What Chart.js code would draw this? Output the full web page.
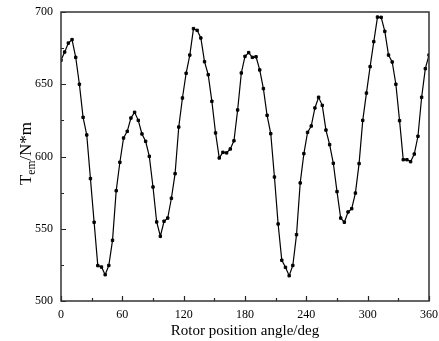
<!DOCTYPE html>
<html>
<head>
<meta charset="utf-8">
<script src="https://cdn.jsdelivr.net/npm/chart.js@4/dist/chart.umd.min.js"></script>
<style>
  html, body { margin: 0; padding: 0; background: #fff; }
  #wrap { width: 439px; height: 341px; position: relative; }
</style>
</head>
<body>
<div id="wrap"><canvas id="c" width="439" height="341"></canvas></div>
<script>
const angles = [0,3.6,7.2,10.8,14.4,18,21.6,25.2,28.8,32.4,36,39.6,43.2,46.8,50.4,54,57.6,61.2,64.8,68.4,
  72,75.6,79.2,82.8,86.4,90,93.6,97.2,100.8,104.4,108,111.6,115.2,118.8,122.4,126,129.6,133.2,136.8,140.4,
  144,147.6,151.2,154.8,158.4,162,165.6,169.2,172.8,176.4,180,183.6,187.2,190.8,194.4,198,201.6,205.2,208.8,212.4,
  216,219.6,223.2,226.8,230.4,234,237.6,241.2,244.8,248.4,252,255.6,259.2,262.8,266.4,270,273.6,277.2,280.8,284.4,
  288,291.6,295.2,298.8,302.4,306,309.6,313.2,316.8,320.4,324,327.6,331.2,334.8,338.4,342,345.6,349.2,352.8,356.4,360];

const torque = [666.6,672.3,678.5,680.9,668.6,650,627.1,614.9,584.7,554.5,524.5,523.5,518.2,524.6,542,576.3,596,612.8,617.4,626.6,
  630.6,625,615.6,610.5,600.1,578.9,554.7,544.8,555.2,557.4,571.1,588.1,620.4,640.5,657.6,670.2,688.5,687.3,682,665.6,
  656.6,638.2,616.3,599,602.9,602.5,605.2,610.9,632.2,657.8,669.3,671.9,668.6,669,659.9,647,628.5,615.8,585.8,553.3,
  528.2,523.3,517.5,524.6,545.9,581.7,602,616.7,621.1,633.6,641,635.4,618.3,608.2,595.3,575.7,557.4,554.5,561.6,563.9,
  574.7,595.1,625,643.9,662.2,679.5,696.5,696.3,686.6,670.2,665.4,650,624.8,597.8,597.8,596.4,601.7,614,641,660.8,670.2];

const xTicks = [0,60,120,180,240,300,360];
const xMinorTicks = [30,90,150,210,270,330];
const yTicks = [500,550,600,650,700];
const yMinorTicks = [525,575,625,675];

const xTitle = 'Rotor position angle/deg';
const yTitleMain = 'T';
const yTitleSub = 'em';
const yTitleRest = '/N*m';

const SERIF = '"Liberation Serif", "Times New Roman", serif';

const framePlugin = {
  id: 'frame',
  afterDraw(chart) {
    const ctx = chart.ctx;
    const a = chart.chartArea;
    const xs = chart.scales.x, ys = chart.scales.y;
    ctx.save();
    ctx.strokeStyle = '#222';
    ctx.lineWidth = 1.2;
    ctx.beginPath();
    xTicks.forEach(v => { const px = Math.round(xs.getPixelForValue(v)) + 0.5; ctx.moveTo(px, a.bottom); ctx.lineTo(px, a.bottom - 5); });
    xMinorTicks.forEach(v => { const px = Math.round(xs.getPixelForValue(v)) + 0.5; ctx.moveTo(px, a.bottom); ctx.lineTo(px, a.bottom - 3); });
    yTicks.forEach(v => { const py = Math.round(ys.getPixelForValue(v)) + 0.5; ctx.moveTo(a.left, py); ctx.lineTo(a.left + 5, py); });
    yMinorTicks.forEach(v => { const py = Math.round(ys.getPixelForValue(v)) + 0.5; ctx.moveTo(a.left, py); ctx.lineTo(a.left + 3, py); });
    ctx.stroke();
    ctx.strokeStyle = '#333';
    ctx.lineWidth = 1.5;
    ctx.strokeRect(a.left, a.top, a.right - a.left, a.bottom - a.top);
    ctx.fillStyle = '#000';
    ctx.font = '15px ' + SERIF;
    ctx.textAlign = 'center';
    ctx.textBaseline = 'alphabetic';
    ctx.fillText(xTitle, (a.left + a.right) / 2, 335);
    ctx.translate(31, (a.top + a.bottom) / 2 - 3);
    ctx.rotate(-Math.PI / 2);
    const mainFont = '17px ' + SERIF, subFont = '11.5px ' + SERIF;
    ctx.font = mainFont; const w1 = ctx.measureText(yTitleMain).width; const w3 = ctx.measureText(yTitleRest).width;
    ctx.font = subFont; const w2 = ctx.measureText(yTitleSub).width;
    const total = w1 + w2 + w3;
    let x0 = -total / 2;
    ctx.textAlign = 'left';
    ctx.font = mainFont; ctx.fillText(yTitleMain, x0, 0); x0 += w1;
    ctx.font = subFont; ctx.fillText(yTitleSub, x0, 3.5); x0 += w2;
    ctx.font = mainFont; ctx.fillText(yTitleRest, x0, 0);
    ctx.restore();
  }
};

new Chart(document.getElementById('c'), {
  type: 'line',
  data: {
    datasets: [{
      data: angles.map((a, i) => ({ x: a, y: torque[i] })),
      borderColor: '#000',
      borderWidth: 1.2,
      backgroundColor: '#000',
      pointStyle: 'rect',
      pointRadius: 1.7,
      pointBorderWidth: 1,
      pointBackgroundColor: '#000',
      pointBorderColor: '#000',
      tension: 0,
      fill: false
    }]
  },
  options: {
    responsive: false,
    animation: false,
    devicePixelRatio: 1,
    layout: { padding: { top: 12, right: 10, left: 0, bottom: 0 } },
    plugins: { legend: { display: false }, tooltip: { enabled: false }, title: { display: false } },
    scales: {
      x: {
        type: 'linear', min: 0, max: 360,
        afterBuildTicks: s => { s.ticks = xTicks.map(v => ({ value: v })); },
        afterFit: s => { s.height = 40; s.paddingLeft = 0; s.paddingRight = 0; },
        grid: { display: false, drawTicks: false },
        border: { display: false },
        ticks: { color: '#000', font: { family: SERIF, size: 12 }, padding: 7, maxRotation: 0, autoSkip: false }
      },
      y: {
        type: 'linear', min: 500, max: 700,
        afterBuildTicks: s => { s.ticks = yTicks.map(v => ({ value: v })); },
        afterFit: s => { s.width = 61; s.paddingTop = 0; s.paddingBottom = 0; },
        grid: { display: false, drawTicks: false },
        border: { display: false },
        ticks: { color: '#000', font: { family: SERIF, size: 12 }, padding: 8 }
      }
    }
  },
  plugins: [framePlugin]
});
</script>
</body>
</html>
